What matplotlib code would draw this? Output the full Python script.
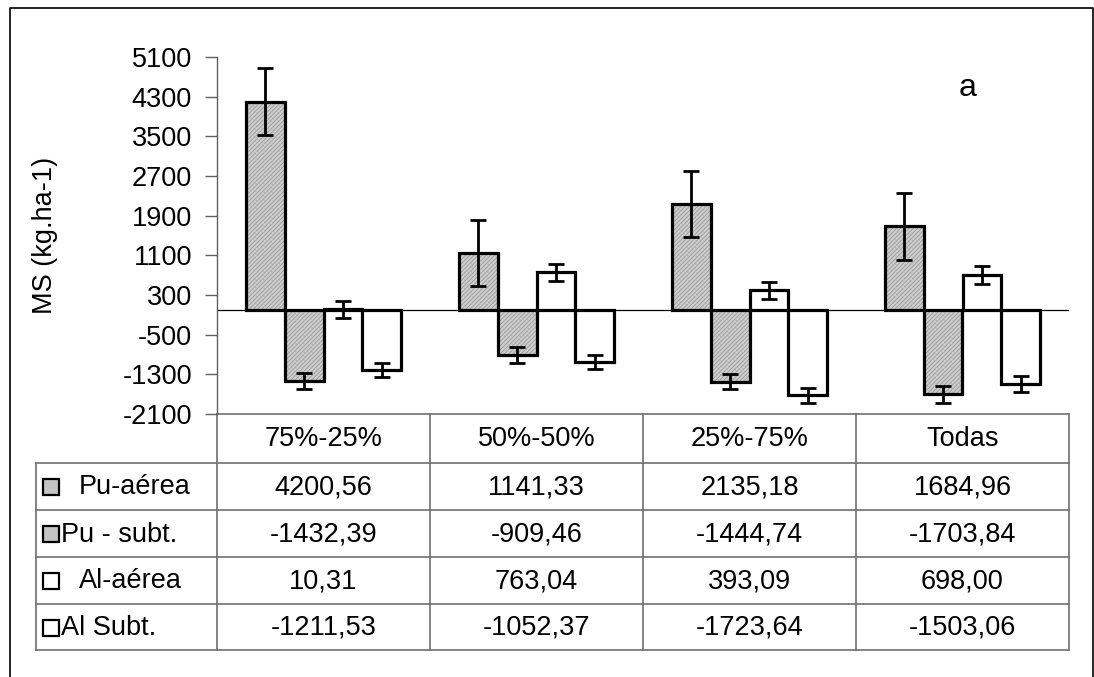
import matplotlib
matplotlib.use("Agg")
import matplotlib.pyplot as plt
from matplotlib.patches import Rectangle
import numpy as np

plt.rcParams['font.family'] = ['Liberation Sans', 'DejaVu Sans']
plt.rcParams['hatch.linewidth'] = 0.6

# --- data -------------------------------------------------------------
categories = ["75%-25%", "50%-50%", "25%-75%", "Todas"]
series_names = ["Pu-aérea", "Pu - subt.", "Al-aérea", "Al Subt."]
pu_aerea = [4200.56, 1141.33, 2135.18, 1684.96]
pu_subt = [-1432.39, -909.46, -1444.74, -1703.84]
al_aerea = [10.31, 763.04, 393.09, 698.00]
al_subt = [-1211.53, -1052.37, -1723.64, -1503.06]
pu_aerea_err = [675, 665, 665, 670]
pu_subt_err = [168, 168, 160, 168]
al_aerea_err = [170, 172, 175, 180]
al_subt_err = [150, 150, 150, 160]
yticks = [-2100, -1300, -500, 300, 1100, 1900, 2700, 3500, 4300, 5100]

series = [pu_aerea, pu_subt, al_aerea, al_subt]
errors = [pu_aerea_err, pu_subt_err, al_aerea_err, al_subt_err]
shaded = [True, True, False, False]

W, H = 1094, 677
fig = plt.figure(figsize=(W / 100, H / 100), dpi=100)

# overlay in pixel units for frame and table
ov = fig.add_axes([0, 0, 1, 1], zorder=0)
ov.set_xlim(0, W)
ov.set_ylim(H, 0)
ov.axis("off")

# chart area
ax_l, ax_r, ax_t, ax_b = 217, 1069, 57, 414
ax = fig.add_axes([ax_l / W, 1 - ax_b / H, (ax_r - ax_l) / W, (ax_b - ax_t) / H], zorder=2)
ax.patch.set_alpha(0)

FS = 19.5
x = np.arange(len(categories))
bw = 0.1816
offsets = (np.arange(4) - 1.5) * bw
for vals, errs, sh, off in zip(series, errors, shaded, offsets):
    if sh:
        ax.bar(x + off, vals, bw, color="#cdcdcd", edgecolor="#9a9a9a",
               hatch="////////", linewidth=0, zorder=2)
        ax.bar(x + off, vals, bw, fill=False, edgecolor="black",
               linewidth=2.3, zorder=3)
    else:
        ax.bar(x + off, vals, bw, color="white", edgecolor="black",
               linewidth=2.3, zorder=3)
    ax.errorbar(x + off, vals, yerr=errs, fmt="none", ecolor="black",
                elinewidth=2, capsize=6, capthick=2, zorder=4)

ax.axhline(0, color="black", linewidth=0.9, zorder=1)
ax.set_xlim(-0.5, len(categories) - 0.5)
ax.set_ylim(-2100, 5100)
ax.set_yticks(yticks)
ax.set_yticklabels([str(t) for t in yticks], fontsize=FS)
ax.tick_params(axis="y", length=9, width=1, color="#606060", pad=9)
ax.set_xticks([])
for s in ["top", "right", "bottom"]:
    ax.spines[s].set_visible(False)
ax.spines["left"].set_color("#606060")
ax.spines["left"].set_linewidth(1)
ax.set_ylabel("MS (kg.ha-1)", fontsize=FS)
ax.yaxis.set_label_coords((58 - ax_l) / (ax_r - ax_l), 0.5)
ax.text((968 - ax_l) / (ax_r - ax_l), (ax_b - 88) / (ax_b - ax_t), "a",
        fontsize=23, ha="center", va="center", transform=ax.transAxes)

# outer frame
ov.plot([10, 10, 1093, 1093], [H, 8, 8, H], color="black", linewidth=1.2)

# data table
grid = "#707070"
col_edges = [217, 430, 643, 856, 1069]
row_edges = [414, 463, 510, 557, 604, 650]
tbl_left = 36
ov.plot([217, 1069], [414, 414], color=grid, lw=1.2)
for cx in col_edges:
    ov.plot([cx, cx], [414, 650], color=grid, lw=1.2)
for ry in row_edges[1:]:
    ov.plot([tbl_left, 1069], [ry, ry], color=grid, lw=1.2)
ov.plot([tbl_left, tbl_left], [463, 650], color=grid, lw=1.2)

for i, c in enumerate(categories):
    ov.text((col_edges[i] + col_edges[i + 1]) / 2, (414 + 463) / 2 + 1, c,
            fontsize=FS, ha="center", va="center")

def fmt(v):
    return f"{v:.2f}".replace(".", ",")

label_x = [79, 61, 79, 61]
for r, (name, vals, sh) in enumerate(zip(series_names, series, shaded)):
    y0, y1 = row_edges[r + 1], row_edges[r + 2]
    yc = (y0 + y1) / 2 + 1
    ov.add_patch(Rectangle((43, yc - 8.5), 16, 16, facecolor="#c4c4c4" if sh else "white",
                           edgecolor="black", linewidth=1.6))
    ov.text(label_x[r], yc, name, fontsize=FS, ha="left", va="center")
    for i, v in enumerate(vals):
        ov.text((col_edges[i] + col_edges[i + 1]) / 2, yc, fmt(v),
                fontsize=FS, ha="center", va="center")

fig.savefig("out.png", dpi=100)
